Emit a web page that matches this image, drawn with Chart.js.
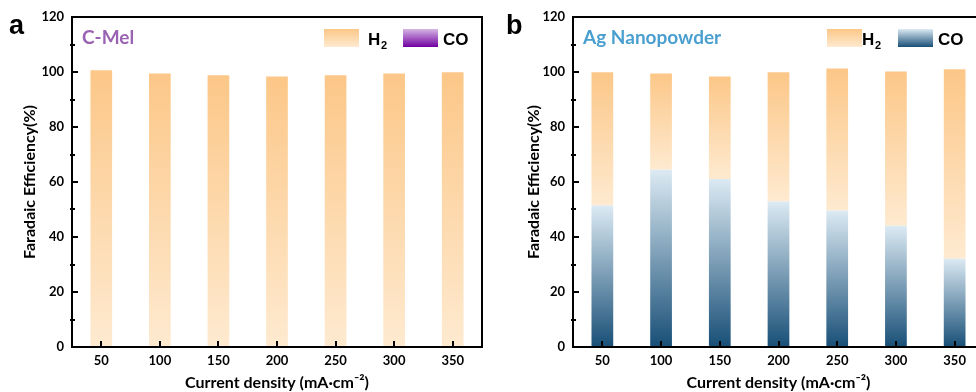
<!DOCTYPE html>
<html>
<head>
<meta charset="utf-8">
<script src="https://cdn.jsdelivr.net/npm/chart.js@4.4.1/dist/chart.umd.min.js"></script>
<style>
  html, body { margin: 0; padding: 0; background: #fff; overflow: hidden; }
  body { width: 976px; height: 392px; position: relative; }
  #wrapA { position: absolute; left: 0; top: 0; width: 490px; height: 392px; }
  #wrapB { position: absolute; left: 490px; top: 0; width: 510px; height: 392px; }
</style>
</head>
<body>
<div id="wrapA"><canvas id="chartA"></canvas></div>
<div id="wrapB"><canvas id="chartB"></canvas></div>
<script>
// datos
const densidades = ['50', '100', '150', '200', '250', '300', '350'];
const yTicks = [0, 20, 40, 60, 80, 100, 120];

// panel a: C-Mel
const coMel = [0, 0, 0, 0, 0, 0, 0];
const h2Mel = [100.6, 99.5, 98.8, 98.4, 98.8, 99.5, 99.9];

// panel b: Ag Nanopowder
const coAg = [51.5, 64.5, 61.1, 52.9, 49.6, 44.1, 32.1];
const h2Ag = [48.4, 35.0, 37.3, 47.0, 51.7, 56.1, 68.9];

const FONT = 'Lato, "Open Sans", sans-serif';
const H2_TOP = '#fcc788', H2_BOT = '#feead0';
const CO_BLUE_TOP = '#dceaf3', CO_BLUE_BOT = '#184f77';
const CO_PURP_TOP = '#d6b6e4', CO_PURP_BOT = '#7000a0';

// degradado vertical para cada segmento apilado
function gradiente(top, bot, lower, upper) {
    return function (context) {
        const chart = context.chart;
        const y = chart.scales.y;
        if (!chart.chartArea || !y) return top;
        const i = context.dataIndex;
        const lo = lower ? lower[i] : 0;
        const hi = lo + upper[i];
        const p0 = y.getPixelForValue(lo);
        const p1 = y.getPixelForValue(hi);
        if (!isFinite(p0) || !isFinite(p1) || p0 === p1) return top;
        const g = chart.ctx.createLinearGradient(0, p1, 0, p0);
        g.addColorStop(0, top);
        g.addColorStop(1, bot);
        return g;
    };
}

// marcas hacia adentro, caja, leyenda y textos
function decoracion(opts) {
    return {
        id: 'decoracion',
        afterDatasetsDraw(chart) {
            const ctx = chart.ctx;
            const a = chart.chartArea;
            const y = chart.scales.y, x = chart.scales.x;
            ctx.save();
            ctx.strokeStyle = '#000';
            ctx.lineWidth = 2;
            ctx.strokeRect(a.left, a.top, a.right - a.left, a.bottom - a.top);
            // ticks eje y
            for (let v = 0; v <= 120; v += 10) {
                const py = Math.round(y.getPixelForValue(v));
                const len = v % 20 === 0 ? 6 : 3;
                ctx.beginPath();
                ctx.moveTo(a.left - (v % 20 === 0 ? 0 : 2), py);
                ctx.lineTo(a.left + len, py);
                ctx.stroke();
            }
            // ticks eje x
            densidades.forEach((d, i) => {
                const px = Math.round(x.getPixelForValue(i));
                ctx.beginPath();
                ctx.moveTo(px, a.bottom);
                ctx.lineTo(px, a.bottom - 6);
                ctx.stroke();
            });
            // letra del panel
            ctx.fillStyle = '#000';
            ctx.font = 'bold 27px "Liberation Sans", Arial, sans-serif';
            ctx.textBaseline = 'alphabetic';
            ctx.textAlign = 'left';
            ctx.fillText(opts.letra, opts.letraX, 34);
            // nombre de la muestra
            ctx.fillStyle = opts.nombreColor;
            ctx.font = 'bold 19px ' + FONT;
            ctx.fillText(opts.nombre, a.left + 10, 44);
            // leyenda
            const lx = opts.legX;
            function caja(x0, top, bot) {
                const g = ctx.createLinearGradient(0, 29, 0, 47);
                g.addColorStop(0, top);
                g.addColorStop(1, bot);
                ctx.fillStyle = g;
                ctx.fillRect(x0, 29, 35, 18);
            }
            caja(lx, H2_TOP, H2_BOT);
            ctx.fillStyle = '#000';
            ctx.font = 'bold 17px "Liberation Sans", Arial, sans-serif';
            ctx.fillText('H', lx + opts.h2Gap, 45);
            ctx.font = 'bold 11px "Liberation Sans", Arial, sans-serif';
            ctx.fillText('2', lx + opts.h2Gap + 13, 49);
            caja(lx + opts.coOff, opts.coTop, opts.coBot);
            ctx.fillStyle = '#000';
            ctx.font = 'bold 17px "Liberation Sans", Arial, sans-serif';
            ctx.fillText('CO', lx + opts.coOff + 40, 45);
            ctx.restore();
        }
    };
}

function crearGrafico(id, co, h2, coTop, coBot, yWidth, rightPad, titlePad, deco) {
    return new Chart(document.getElementById(id), {
        type: 'bar',
        data: {
            labels: densidades,
            datasets: [
                {
                    label: 'CO',
                    data: co,
                    backgroundColor: gradiente(coTop, coBot, null, co),
                    borderWidth: 0,
                    barPercentage: 0.37,
                    categoryPercentage: 1
                },
                {
                    label: 'H2',
                    data: h2,
                    backgroundColor: gradiente(H2_TOP, H2_BOT, co, h2),
                    borderWidth: 0,
                    barPercentage: 0.37,
                    categoryPercentage: 1
                }
            ]
        },
        options: {
            responsive: true,
            maintainAspectRatio: false,
            animation: false,
            layout: { padding: { top: 17, right: rightPad, left: 0, bottom: 0 } },
            plugins: {
                legend: { display: false },
                tooltip: { enabled: false }
            },
            scales: {
                x: {
                    stacked: true,
                    offset: true,
                    grid: { display: false, drawTicks: false },
                    border: { display: false },
                    ticks: {
                        color: '#000',
                        padding: 6,
                        font: { family: FONT, size: 13, weight: 'bold' }
                    },
                    title: {
                        display: true,
                        text: 'Current density (mA·cm⁻²)',
                        color: '#000',
                        padding: { top: 2, bottom: 0 },
                        font: { family: FONT, size: 16, weight: 'bold' }
                    },
                    afterFit(s) { s.height = 45; }
                },
                y: {
                    stacked: true,
                    min: 0,
                    max: 120,
                    afterBuildTicks(s) { s.ticks = yTicks.map(v => ({ value: v })); },
                    grid: { display: false, drawTicks: false },
                    border: { display: false },
                    ticks: {
                        color: '#000',
                        padding: 8,
                        font: { family: FONT, size: 13, weight: 'bold' }
                    },
                    title: {
                        display: true,
                        text: 'Faradaic Efficiency(%)',
                        color: '#000',
                        padding: { top: titlePad, bottom: 4 },
                        font: { family: FONT, size: 16, weight: 'bold' }
                    },
                    afterFit(s) { s.width = yWidth; }
                }
            }
        },
        plugins: [deco]
    });
}

crearGrafico('chartA', coMel, h2Mel, CO_PURP_TOP, CO_PURP_BOT, 72, 8, 20,
    decoracion({ letra: 'a', letraX: 9, nombre: 'C-Mel', nombreColor: '#9a62b2',
        legX: 324, h2Gap: 44, coOff: 79, coTop: CO_PURP_TOP, coBot: CO_PURP_BOT }));

crearGrafico('chartB', coAg, h2Ag, CO_BLUE_TOP, CO_BLUE_BOT, 83, 16, 34,
    decoracion({ letra: 'b', letraX: 16, nombre: 'Ag Nanopowder', nombreColor: '#4a9fd0',
        legX: 337, h2Gap: 35, coOff: 71, coTop: CO_BLUE_TOP, coBot: CO_BLUE_BOT }));
</script>
</body>
</html>
